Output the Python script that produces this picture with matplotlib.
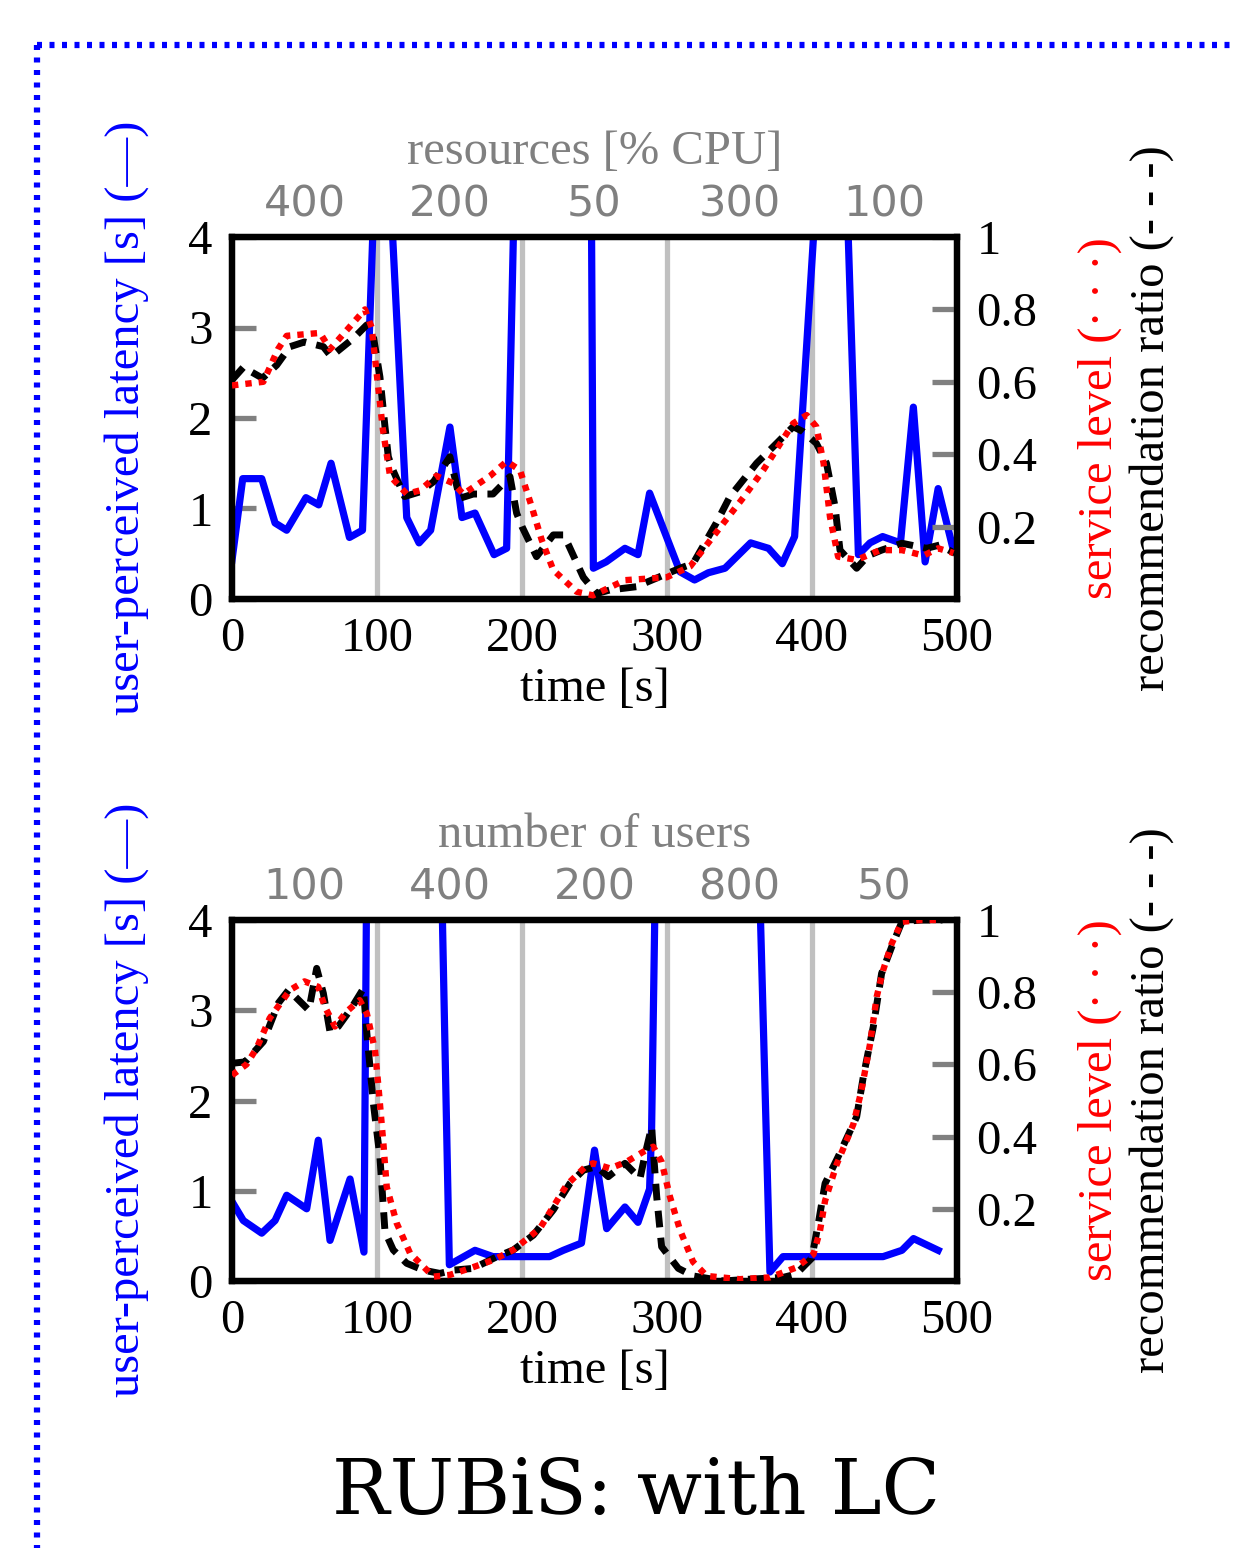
import matplotlib
matplotlib.use("Agg")
from matplotlib import pyplot as plt
from matplotlib.lines import Line2D

plt.rcParams['font.family'] = ['Liberation Serif', 'DejaVu Serif']

# ---- top panel: resources [% CPU] changes ----
top_segments = ['400', '200', '50', '300', '100']
lat_t1 = [0, 7.4, 20.5, 29.7, 37.7, 51, 59.8, 68.3, 81, 90, 99, 108, 120.5, 129, 137,
          150.3, 158.6, 167.6, 180.7, 189.4, 197, 247, 249.2, 258, 271, 280, 288, 309,
          319, 328.5, 340, 357.7, 370, 379.5, 388, 403, 423, 432, 440, 448.7, 461,
          469.9, 478, 487, 497.5]
lat1 = [0.43, 1.33, 1.33, 0.84, 0.76, 1.12, 1.04, 1.50, 0.68, 0.76, 4.9, 4.9, 0.9, 0.62,
        0.76, 1.9, 0.9, 0.95, 0.49, 0.56, 6.2, 7.0, 0.34, 0.41, 0.56, 0.49, 1.17, 0.3,
        0.21, 0.29, 0.34, 0.62, 0.56, 0.39, 0.69, 4.5, 5.0, 0.49, 0.62, 0.69, 0.62,
        2.12, 0.41, 1.22, 0.54]
svc_t1 = [0, 21.6, 31.7, 37.7, 60.7, 67.6, 91.7, 96.3, 104, 109, 120.5, 129.6, 141,
          152.4, 159.5, 178, 189.4, 198.6, 206.7, 213.6, 221.6, 237.7, 249, 271, 299.8,
          316, 339, 352.6, 366.4, 387, 396.3, 403, 408, 412.4, 418, 430.8, 447, 462,
          477, 487, 497.6]
svc1 = [0.59, 0.60, 0.69, 0.727, 0.735, 0.69, 0.80, 0.75, 0.47, 0.34, 0.29, 0.30, 0.34,
        0.32, 0.29, 0.34, 0.38, 0.356, 0.255, 0.163, 0.08, 0.02, 0.01, 0.052, 0.06,
        0.09, 0.21, 0.28, 0.356, 0.485, 0.508, 0.476, 0.375, 0.227, 0.117, 0.108,
        0.135, 0.135, 0.12, 0.14, 0.127]
rec_t1 = [0, 7.8, 21, 30.8, 40, 50, 63, 68.3, 83.7, 92.9, 97.5, 102, 105.5, 107.8, 111,
          119, 129.6, 139, 150.3, 157, 166.4, 180, 191.7, 196.3, 200, 210, 221.6, 228.5,
          232, 242.3, 251.5, 260.7, 279, 287, 309, 318, 334, 343.4, 361.8, 375.6, 387,
          394, 403, 410, 415.9, 419.3, 430.8, 438.8, 448, 462, 479, 488, 498.6]
rec1 = [0.605, 0.64, 0.61, 0.646, 0.697, 0.71, 0.697, 0.67, 0.72, 0.757, 0.725, 0.614,
        0.476, 0.393, 0.356, 0.283, 0.296, 0.324, 0.393, 0.278, 0.29, 0.29, 0.338,
        0.237, 0.20, 0.117, 0.177, 0.177, 0.15, 0.06, 0.015, 0.025, 0.034, 0.048,
        0.085, 0.098, 0.21, 0.283, 0.375, 0.43, 0.476, 0.462, 0.43, 0.375, 0.255,
        0.135, 0.085, 0.12, 0.135, 0.154, 0.14, 0.149, 0.126]

# ---- bottom panel: number of users changes ----
bottom_segments = ['100', '400', '200', '800', '50']
lat_t2 = [0, 7.8, 20.5, 29.7, 37.7, 51.5, 59.5, 67.6, 81.4, 91, 94, 144, 149.9, 167.6,
          180, 219, 228.5, 241, 250, 258.4, 271, 280, 288, 289.4, 292, 364, 371, 380,
          449, 462, 470, 487]
lat2 = [0.88, 0.67, 0.53, 0.67, 0.95, 0.80, 1.56, 0.45, 1.13, 0.32, 7.0, 4.9, 0.18,
        0.34, 0.27, 0.27, 0.34, 0.42, 1.45, 0.58, 0.82, 0.65, 1.02, 1.70, 4.5, 4.3,
        0.10, 0.27, 0.27, 0.34, 0.47, 0.34]
svc_t2 = [0, 10, 17, 26, 40, 50, 59.5, 64, 71, 79, 88, 93, 98.6, 101, 104.4, 106.7,
          113.6, 122.8, 138.9, 150.3, 164, 180, 194, 212.4, 230.8, 244.6, 249, 260.7,
          272, 283.7, 290.5, 296.3, 302, 309, 318, 327.4, 350, 371, 389, 401, 405.5,
          409, 417, 428.5, 434, 440, 444.6, 449, 455, 462, 475, 490]
svc2 = [0.57, 0.60, 0.645, 0.728, 0.806, 0.83, 0.815, 0.76, 0.705, 0.746, 0.778, 0.741,
        0.64, 0.538, 0.381, 0.261, 0.16, 0.077, 0.012, 0.017, 0.035, 0.058, 0.086,
        0.146, 0.266, 0.32, 0.326, 0.312, 0.33, 0.358, 0.372, 0.33, 0.234, 0.141,
        0.053, 0.014, 0.005, 0.01, 0.037, 0.074, 0.139, 0.222, 0.323, 0.434, 0.526,
        0.656, 0.787, 0.86, 0.935, 0.995, 1.0, 1.0]
rec_t2 = [0, 9, 21.6, 32, 39, 53, 58.4, 63, 67.6, 73.3, 81.4, 90.6, 93, 97.5, 102, 105.5,
          111.2, 120.5, 132, 143.4, 152.6, 166.4, 182.5, 194, 207.8, 221.6, 233, 242.3,
          251.5, 259.5, 271, 281.4, 284.8, 289.4, 292.9, 296.3, 307.8, 318, 339, 357,
          380, 389, 399.8, 404.4, 409, 418, 430.8, 435.4, 442.3, 448, 455, 462, 475, 490]
rec2 = [0.603, 0.607, 0.663, 0.77, 0.806, 0.75, 0.866, 0.797, 0.69, 0.705, 0.75, 0.81,
        0.686, 0.492, 0.344, 0.137, 0.086, 0.049, 0.03, 0.021, 0.03, 0.035, 0.067,
        0.086, 0.127, 0.197, 0.27, 0.307, 0.317, 0.289, 0.326, 0.284, 0.349, 0.427,
        0.234, 0.095, 0.035, 0.014, 0.0, 0.005, 0.01, 0.019, 0.063, 0.16, 0.27, 0.344,
        0.455, 0.566, 0.705, 0.852, 0.926, 0.995, 1.0, 1.0]

phase_changes = [100, 200, 300, 400]
segment_centers = [50, 150, 250, 350, 450]

W, H = 1236, 1548
FS = 35
SPINE = 4.5

fig = plt.figure(figsize=(W / 100, H / 100), dpi=100)


def px(x, y):
    return x / W, 1 - y / H


def panel(rect, top_title, seg_labels, lt, lv, st, sv, rt, rv, ycenter):
    ax = fig.add_axes(rect)
    for x in phase_changes:
        ax.axvline(x, color='#c0c0c0', lw=3.8, zorder=1)
    ax.plot(lt, lv, color='#0000ff', lw=5.2, zorder=2)
    ax.set_xlim(0, 500)
    ax.set_ylim(0, 4)
    ax.set_xticks(range(0, 501, 100))
    ax.set_yticks(range(0, 5))
    ax.tick_params(axis='x', length=0, pad=13, labelsize=FS)
    ax.tick_params(axis='y', direction='in', length=17, width=3.8, color='gray',
                   pad=14, labelsize=FS)
    ax.set_xlabel('time [s]', fontsize=FS, labelpad=4)
    for s in ax.spines.values():
        s.set_linewidth(SPINE)

    tw = ax.twinx()
    tw.plot(rt, rv, color='black', lw=5.0, linestyle=(0, (2.4, 1.5)), zorder=2)
    tw.plot(st, sv, color='#ff0000', lw=4.6, linestyle=(0, (1, 1.1)), zorder=3)
    tw.set_ylim(0, 1)
    tw.set_yticks([0.2, 0.4, 0.6, 0.8, 1.0], ['0.2', '0.4', '0.6', '0.8', '1'])
    tw.tick_params(axis='y', direction='in', length=18, width=3.8, color='gray',
                   pad=14, labelsize=FS)
    for s in tw.spines.values():
        s.set_linewidth(SPINE)

    sec = ax.secondary_xaxis('top')
    sec.set_xticks(segment_centers, seg_labels)
    sec.tick_params(length=0, pad=8, labelsize=31, labelcolor='gray')
    for lab in sec.get_xticklabels():
        lab.set_fontfamily('DejaVu Sans')
    sec.spines['top'].set_visible(False)
    sec.set_xlabel(top_title, fontsize=FS, color='gray', labelpad=14)

    fig.text(*px(127, ycenter), 'user-perceived latency [s] (\u2014)', color='#0000ff',
             fontsize=FS, rotation=90, ha='center', va='center')
    fig.text(*px(1100, ycenter), 'service level (\u00b7 \u00b7 \u00b7)', color='#ff0000',
             fontsize=FS, rotation=90, ha='center', va='center')
    fig.text(*px(1152, ycenter), 'recommendation ratio (- - -)', color='black',
             fontsize=FS, rotation=90, ha='center', va='center')
    return ax


panel([232 / W, 1 - 599 / H, 725 / W, 362 / H], 'resources [% CPU]', top_segments,
      lat_t1, lat1, svc_t1, svc1, rec_t1, rec1, 418)
panel([232 / W, 1 - 1281 / H, 725 / W, 361 / H], 'number of users', bottom_segments,
      lat_t2, lat2, svc_t2, svc2, rec_t2, rec2, 1100)

fig.text(*px(636, 1493), 'RUBiS: with LC', family='DejaVu Serif', fontsize=55,
         ha='center', va='center')

# dotted blue frame
frame = dict(color='#0000ff', lw=4.5, linestyle=(0, (0.8, 1.2)),
             transform=fig.transFigure)
fig.add_artist(Line2D([37 / W, 37 / W], [1 - 45 / H, 0], **frame))
fig.add_artist(Line2D([37 / W, 1], [1 - 45 / H, 1 - 45 / H], **frame))

fig.savefig('out.png', dpi=100)
